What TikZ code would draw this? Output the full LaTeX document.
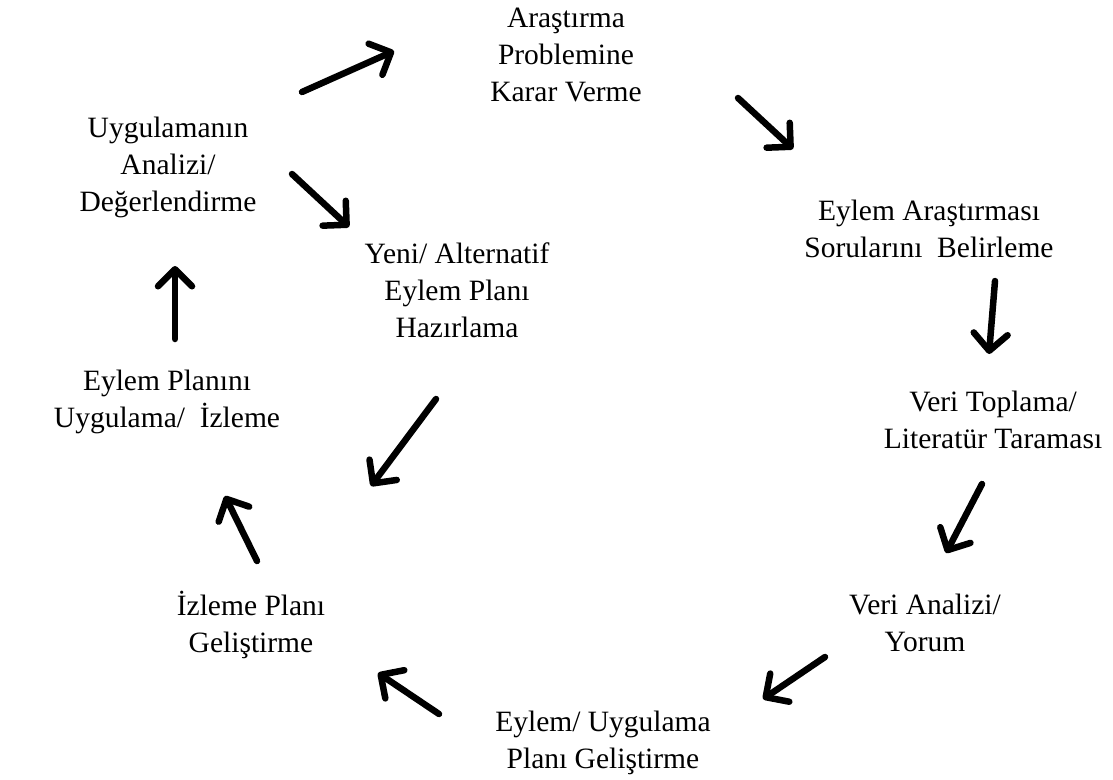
\documentclass[tikz,border=0pt]{standalone}
\usepackage{fontspec}
\setmainfont{Liberation Serif}
\usetikzlibrary{arrows.meta}
\begin{document}
\begin{tikzpicture}[x=1pt,y=-1pt,
  lbl/.style={align=center,font=\fontsize{29.5}{37}\selectfont,inner sep=0pt,anchor=base},
  arr/.style={line width=6.5pt,line cap=round,-{Straight Barb[length=17pt,width=34pt,line cap=round,line join=round]}}]
\useasboundingbox (0,0) rectangle (1113,779);
% anchor=base is the baseline of the last line
\node[lbl] (n1) at (566,101) {Araştırma\\Problemine\\Karar Verme};
\node[lbl] (n2) at (929,257) {Eylem Araştırması\\Sorularını\ \ Belirleme};
\node[lbl] (n3) at (993,448) {Veri Toplama/\\Literatür Taraması};
\node[lbl] (n4) at (925,651) {Veri Analizi/\\Yorum};
\node[lbl] (n5) at (603,768) {Eylem/ Uygulama\\Planı Geliştirme};
\node[lbl] (n6) at (251,652) {İzleme Planı\\Geliştirme};
\node[lbl] (n7) at (167,427) {Eylem Planını\\Uygulama/\ \ İzleme};
\node[lbl] (n8) at (168,211) {Uygulamanın\\Analizi/\\Değerlendirme};
\node[lbl] (n9) at (457,337) {Yeni/ Alternatif\\Eylem Planı\\Hazırlama};
\coordinate (a1) at (302,92);  \coordinate (b1) at (394,51);
\coordinate (a2) at (738,98);  \coordinate (b2) at (793,149);
\coordinate (a3) at (995,281); \coordinate (b3) at (989,354);
\coordinate (a4) at (982,484); \coordinate (b4) at (946,553);
\coordinate (a5) at (825,657); \coordinate (b5) at (763,699);
\coordinate (a6) at (439,714); \coordinate (b6) at (378,673);
\coordinate (a7) at (257,561); \coordinate (b7) at (225,496);
\coordinate (a8) at (175,339); \coordinate (b8) at (175,266);
\coordinate (a9) at (292,174); \coordinate (b9) at (349,227);
\coordinate (a10) at (436,399); \coordinate (b10) at (371,486);
\draw[arr] (a1) -- (b1);
\draw[arr] (a2) -- (b2);
\draw[arr] (a3) -- (b3);
\draw[arr] (a4) -- (b4);
\draw[arr] (a5) -- (b5);
\draw[arr] (a6) -- (b6);
\draw[arr] (a7) -- (b7);
\draw[arr] (a8) -- (b8);
\draw[arr] (a9) -- (b9);
\draw[arr] (a10) -- (b10);
\end{tikzpicture}
\end{document}
